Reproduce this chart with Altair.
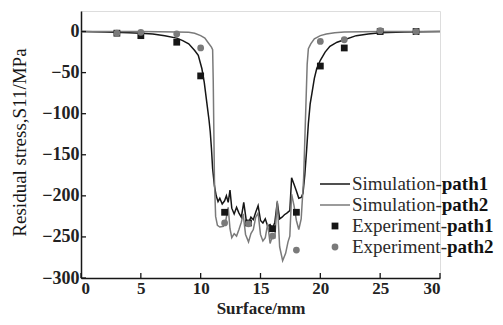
import altair as alt
import pandas as pd

# ---- data ----
sim1_x = [0, 2, 4, 5, 6, 7, 8, 8.5, 9, 9.5, 9.8, 10.1, 10.3, 10.5, 10.7, 10.8, 10.9, 11.0, 11.15,
          11.3, 11.45, 11.6, 11.8, 12.0, 12.15, 12.3, 12.45, 12.6, 12.8, 13.0, 13.2, 13.4, 13.6,
          13.8, 14.0, 14.2, 14.4, 14.6, 14.8, 15.0, 15.2, 15.4, 15.6, 15.8, 16.0, 16.2, 16.4,
          16.6, 16.8, 17.0, 17.2, 17.45, 17.6, 17.8, 18.0, 18.2, 18.4, 18.55, 18.7, 18.85, 19.0,
          19.15, 19.3, 19.5, 19.7, 20.0, 20.4, 20.8, 21.4, 22, 23, 24, 25, 27, 30]
sim1_y = [0, -0.5, -1.5, -2, -3, -5, -8, -11, -15, -23, -29, -45, -62, -85, -108, -122, -142, -167, -188,
          -200, -207, -203, -210, -206, -200, -208, -193, -215, -222, -214, -221, -226, -208,
          -229, -233, -226, -229, -220, -212, -230, -233, -228, -237, -235, -240, -232, -208,
          -228, -226, -223, -221, -218, -178, -186, -194, -203, -202, -197, -175, -145, -112,
          -88, -75, -57, -45, -35, -25, -18, -13, -10, -5, -3, -1.5, -0.5, 0]

sim2_x = [0, 5, 8, 9, 9.5, 10, 10.35, 10.6, 10.9, 11.0, 11.05, 11.1, 11.15, 11.25, 11.4, 11.6, 11.9,
          12.1, 12.3, 12.45, 12.6, 12.8, 13.0, 13.2, 13.4, 13.55, 13.75, 14.0, 14.2, 14.4, 14.6,
          14.8, 15.0, 15.2, 15.4, 15.6, 15.8, 16.0, 16.2, 16.4, 16.6, 16.85, 17.1, 17.3, 17.45,
          17.6, 17.8, 18.0, 18.2, 18.4, 18.6, 18.75, 18.9, 19.0, 19.2, 19.5, 20.0, 20.5, 21.2,
          22, 25, 30]
sim2_y = [0, 0, -0.5, -1, -2, -5, -8, -13, -19, -22, -60, -120, -180, -225, -236, -238, -237,
          -230, -214, -240, -251, -246, -249, -241, -232, -222, -247, -256, -246, -241, -226,
          -221, -247, -255, -251, -234, -258, -249, -251, -206, -262, -279, -270, -256, -249,
          -198, -212, -230, -241, -228, -180, -110, -40, -21, -15, -9, -5, -3, -1.5,
          -0.5, 0, 0]

exp_x = [3, 5, 8, 10, 12, 14, 16, 18, 20, 22, 25, 28]
exp1_y = [-2, -5, -13, -54, -220, -233, -240, -220, -42, -20, 0, 0]
exp2_y = [-2, -1, -3, -20, -233, -234, -249, -266, -12, -10, 1, 0]

x_ticks = [0, 5, 10, 15, 20, 25, 30]
y_ticks = [-300, -250, -200, -150, -100, -50, 0]

legend_plain = ["Simulation-", "Simulation-", "Experiment-", "Experiment-"]
legend_bold = ["path1", "path2", "path1", "path2"]

# ---- styling ----
W, H = 359, 267
BLACK = "#161616"
GRAY = "#7a7a7a"
FONT = "Liberation Serif"

sim = pd.concat([
    pd.DataFrame({"x": sim1_x, "y": sim1_y, "s": "path1"}),
    pd.DataFrame({"x": sim2_x, "y": sim2_y, "s": "path2"}),
])
e1 = pd.DataFrame({"x": exp_x, "y": exp1_y})
e2 = pd.DataFrame({"x": exp_x, "y": exp2_y})

xs = alt.Scale(domain=[0, 30], nice=False)
ys = alt.Scale(domain=[-300, 25], nice=False)

x_axis = alt.Axis(values=x_ticks, title="Surface/mm", grid=False, tickSize=0,
                  labelPadding=2, labelFont=FONT, labelFontSize=17, labelFontWeight="bold",
                  labelColor="#222222",
                  titleFont=FONT, titleFontSize=17, titleFontWeight="bold", titleColor="#222222",
                  titleX=W / 2, titleY=35, titleBaseline="alphabetic",
                  domainColor=BLACK, domainWidth=1.5)
y_axis = alt.Axis(values=y_ticks, title="Residual stress,S11/MPa", grid=False, tickSize=0,
                  labelPadding=2, labelFont=FONT, labelFontSize=18, labelFontWeight="bold",
                  labelColor="#222222",
                  titleFont=FONT, titleFontSize=19, titleFontWeight="normal", titleColor=BLACK,
                  titleX=-62, titleY=131, titleBaseline="middle", titleAngle=270,
                  domainColor=BLACK, domainWidth=1.5)

lines = alt.Chart(sim).mark_line(strokeWidth=1.5).encode(
    x=alt.X("x:Q", scale=xs, axis=x_axis),
    y=alt.Y("y:Q", scale=ys, axis=y_axis),
    color=alt.Color("s:N", scale=alt.Scale(domain=["path1", "path2"], range=[BLACK, GRAY]), legend=None),
    order=alt.Order("x:Q"),
)

pts1 = alt.Chart(e1).mark_square(size=46, filled=True, color=BLACK, opacity=1).encode(
    x=alt.X("x:Q", scale=xs), y=alt.Y("y:Q", scale=ys))
pts2 = alt.Chart(e2).mark_circle(size=46, color=GRAY, opacity=1).encode(
    x=alt.X("x:Q", scale=xs), y=alt.Y("y:Q", scale=ys))

xt = alt.Chart(pd.DataFrame({"t": x_ticks})).mark_rule(color=BLACK, strokeWidth=1.3).encode(
    x=alt.X("t:Q", scale=xs), y=alt.value(H), y2=alt.value(H - 5))
yt = alt.Chart(pd.DataFrame({"t": y_ticks})).mark_rule(color=BLACK, strokeWidth=1.3).encode(
    y=alt.Y("t:Q", scale=ys), x=alt.value(0), x2=alt.value(5))

# ---- hand-drawn legend ----
LFS = 19
row_y = [173, 194, 215, 236]
plain_w = {"Simulation-": 4.723 * LFS, "Experiment-": 4.999 * LFS}
leg_layers = []
one = pd.DataFrame({"k": [0]})
for i in range(4):
    yv = row_y[i]
    if i == 0 or i == 1:
        leg_layers.append(alt.Chart(one).mark_rule(color=[BLACK, GRAY][i], strokeWidth=1.5).encode(
            x=alt.value(239), x2=alt.value(269), y=alt.value(yv)))
    elif i == 2:
        leg_layers.append(alt.Chart(one).mark_square(size=46, filled=True, color=BLACK, opacity=1).encode(
            x=alt.value(254), y=alt.value(yv)))
    else:
        leg_layers.append(alt.Chart(one).mark_circle(size=46, color=GRAY, opacity=1).encode(
            x=alt.value(254), y=alt.value(yv)))
    leg_layers.append(alt.Chart(pd.DataFrame({"t": [legend_plain[i]]})).mark_text(
        font=FONT, fontSize=LFS, color="#2a2a2a", align="left", baseline="middle").encode(
        x=alt.value(271), y=alt.value(yv), text="t:N"))
    leg_layers.append(alt.Chart(pd.DataFrame({"t": [legend_bold[i]]})).mark_text(
        font=FONT, fontSize=LFS, fontWeight="bold", color="#111111", align="left", baseline="middle").encode(
        x=alt.value(271 + plain_w[legend_plain[i]]), y=alt.value(yv), text="t:N"))

chart = alt.layer(lines, pts1, pts2, xt, yt, *leg_layers).properties(
    width=W, height=H,
    autosize=alt.AutoSizeParams(type="none"),
    padding={"left": 73, "top": 3, "right": 55, "bottom": 39},
).configure_view(stroke=None).configure(background="white")

chart.save("out.html", embed_options={"renderer": "svg", "actions": False})
